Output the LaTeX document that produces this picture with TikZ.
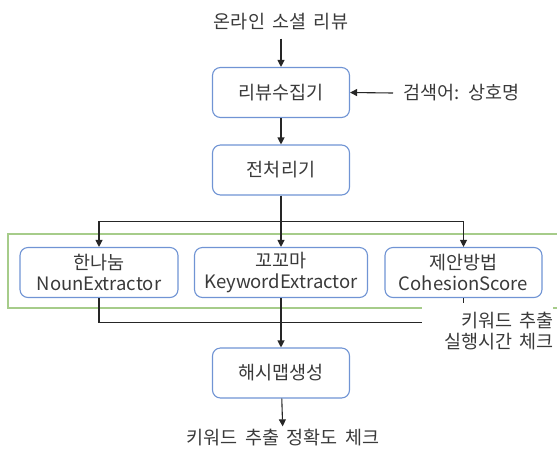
\documentclass[tikz,border=0pt]{standalone}
\usepackage{fontspec}
\setmainfont{Noto Sans CJK KR}[WordSpace=1.8]
\usepackage{tikz}
\usetikzlibrary{arrows.meta,positioning,calc}
\definecolor{boxblue}{RGB}{112,148,212}
\definecolor{framegreen}{RGB}{166,204,138}
\definecolor{inkgrey}{RGB}{58,58,58}
\definecolor{wiregrey}{RGB}{38,38,38}
\tikzset{
  base/.style={font=\fontsize{18.5}{21}\selectfont, align=center, text=inkgrey, inner sep=3pt},
  box/.style={base, rectangle, rounded corners=8pt, draw=boxblue, fill=white, line width=1.1pt, minimum height=50pt},
  lbl/.style={base},
  wire/.style={line width=1.1pt, draw=wiregrey},
  arr/.style={wire, -{Triangle[length=7pt,width=7pt]}},
  frame/.style={line width=1.4pt, draw=framegreen},
}

\begin{document}
\begin{tikzpicture}[x=1pt,y=-1pt]
  \useasboundingbox (0,0) rectangle (557,448);
  % main column
  \node[lbl] (src) at (281,22) {온라인 소셜 리뷰};
  \node[box,minimum width=137pt] (collect) at (281,92.5) {리뷰수집기};
  \node[lbl,anchor=west,inner xsep=10pt] (kw) at (393,93) {검색어: 상호명};
  \node[box,minimum width=137pt] (prep) at (281,170) {전처리기};
  % extractors
  \draw[frame] (8,234) rectangle (580,308);
  \node[box,minimum width=158pt] (hnn) at (99,272.5) {한나눔\\NounExtractor};
  \node[box,minimum width=173pt] (kkma) at (281,272.5) {꼬꼬마\\KeywordExtractor};
  \node[box,minimum width=157pt] (prop) at (463.5,272.5) {제안방법\\CohesionScore};
  \node[lbl,anchor=north west,fill=white,inner sep=0pt,text width=131pt,align=right,minimum height=56pt] (rt) at (422,303) {키워드 추출\\실행시간 체크};
  \node[box,minimum width=137pt] (hash) at (281,373) {해시맵생성};
  \node[lbl] (acc) at (283,438) {키워드 추출 정확도 체크};
  % connectors
  \draw[arr,shorten <=5pt] (src) -- (collect);
  \draw[arr] (kw.west) -- (collect.east);
  \draw[arr] (collect) -- (prep);
  \coordinate (split) at (281,221.5);
  \draw[wire] (prep.south) -- (split);
  \draw[arr] (split) -| (hnn.north);
  \draw[arr] (split) -- (kkma.north);
  \draw[arr] (split) -| (prop.north);
  \draw[wire] (hnn.south) |- ([yshift=9pt]rt.west);
  \draw[wire] (prop.south) -- (prop.south |- rt.north);
  \draw[arr] (kkma.south) -- (hash.north);
  \draw[arr] (hash) -- (acc);
\end{tikzpicture}
\end{document}
